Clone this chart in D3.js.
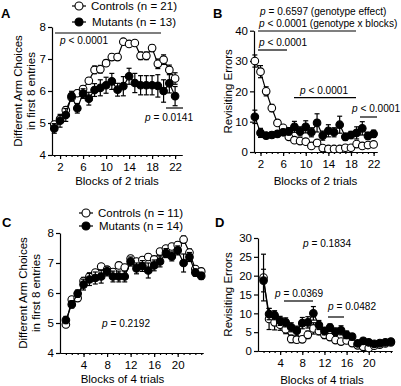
<!DOCTYPE html>
<html>
<head>
<meta charset="utf-8">
<script src="https://cdn.jsdelivr.net/npm/d3@7"></script>
<style>
body { margin: 0; background: #fff; }
svg { display: block; font-family: "Liberation Sans", Arial, sans-serif; }
</style>
</head>
<body>
<svg id="fig" width="401" height="386"></svg>
<script>
// blocks (x categories)
var blocks22 = [1, 2, 3, 4, 5, 6, 7, 8, 9, 10, 11, 12, 13, 14, 15, 16, 17, 18, 19, 20, 21, 22];
var blocks24 = [1, 2, 3, 4, 5, 6, 7, 8, 9, 10, 11, 12, 13, 14, 15, 16, 17, 18, 19, 20, 21, 22, 23, 24];

// tick labels
var xTicks2 = [2, 6, 10, 14, 18, 22];
var xTicks4 = [4, 8, 12, 16, 20];
var yTicksChoices = [4, 5, 6, 7, 8];
var yTicksB = [0, 10, 20, 30, 40];
var yTicksD = [0, 5, 10, 15, 20, 25, 30];

// panel A: arm choices, blocks of 2 trials
var aControls = [4.95, 5.12, 5.4, 5.8, 5.93, 6.06, 6.32, 6.66, 6.68, 6.87, 7.06, 7.06, 7.54, 7.47, 7.5, 7.1, 7.1, 7.34, 6.85, 6.98, 6.66, 6.39];
var aControlsErr = [0.1, 0.1, 0.1, 0.1, 0.1, 0.1, 0.1, 0.12, 0.12, 0.1, 0.1, 0.1, 0.08, 0.08, 0.08, 0.12, 0.12, 0.1, 0.15, 0.15, 0.15, 0.18];
var aMutants = [4.83, 5.07, 5.25, 5.84, 5.46, 5.92, 5.76, 6.03, 6.1, 6.18, 6.3, 6.04, 6.15, 6.46, 6.25, 6.18, 6.18, 6.18, 6.16, 6.0, 6.24, 5.84];
var aMutantsErr = [0.15, 0.2, 0.2, 0.15, 0.15, 0.15, 0.2, 0.2, 0.25, 0.25, 0.25, 0.2, 0.3, 0.25, 0.3, 0.3, 0.3, 0.3, 0.35, 0.35, 0.3, 0.3];

// panel B: revisiting errors, blocks of 2 trials
var bControls = [30, 26.5, 20, 14.5, 9.6, 8.0, 5.0, 3.9, 3.6, 3.4, 2.0, 3.0, 1.3, 1.0, 1.0, 1.0, 1.4, 1.4, 2.6, 2.0, 2.3, 2.5];
var bControlsErr = [2.0, 2.0, 1.5, 1.2, 0.8, 0.6, 0.5, 0.4, 0.4, 0.4, 0.3, 0.4, 0.3, 0.3, 0.3, 0.3, 0.3, 0.3, 0.5, 0.4, 0.4, 0.4];
var bMutants = [11.6, 6.3, 5.4, 5.6, 6.0, 6.5, 6.8, 8.3, 6.8, 8.3, 6.5, 9.6, 5.4, 7.0, 6.5, 9.0, 5.0, 5.6, 6.3, 7.8, 5.3, 6.0];
var bMutantsErr = [2.2, 1.5, 1.0, 1.0, 1.0, 1.0, 1.2, 1.8, 1.5, 2.0, 1.5, 3.0, 1.5, 2.0, 1.5, 2.8, 1.2, 1.2, 2.0, 2.2, 1.2, 1.2];

// panel C: arm choices, blocks of 4 trials
var cControls = [4.95, 5.78, 5.83, 6.4, 6.55, 6.68, 6.88, 6.78, 6.7, 6.92, 6.85, 7.15, 7.05, 7.1, 7.2, 7.12, 7.38, 7.48, 7.55, 7.6, 7.78, 7.35, 6.8, 6.72];
var cControlsErr = [0.1, 0.1, 0.1, 0.12, 0.12, 0.1, 0.1, 0.1, 0.1, 0.1, 0.1, 0.1, 0.1, 0.1, 0.1, 0.1, 0.1, 0.1, 0.1, 0.1, 0.12, 0.12, 0.1, 0.1];
var cMutants = [5.1, 5.62, 5.98, 6.28, 6.45, 6.5, 6.55, 6.72, 6.55, 6.55, 6.55, 7.05, 6.82, 6.9, 6.75, 6.92, 7.05, 7.33, 7.22, 7.42, 7.0, 7.2, 6.68, 6.57];
var cMutantsErr = [0.12, 0.12, 0.12, 0.18, 0.2, 0.2, 0.22, 0.15, 0.18, 0.18, 0.18, 0.15, 0.18, 0.18, 0.25, 0.18, 0.18, 0.15, 0.15, 0.15, 0.3, 0.15, 0.12, 0.12];

// panel D: revisiting errors, blocks of 4 trials
var dControls = [19.5, 8.5, 7.6, 7.0, 5.8, 3.2, 3.0, 3.1, 4.3, 6.0, 5.3, 4.3, 3.7, 2.9, 2.5, 2.8, 2.1, 1.5, 1.1, 0.8, 1.4, 1.7, 2.0, 2.3];
var dControlsErr = [6.2, 2.8, 2.0, 1.5, 1.2, 1.0, 0.8, 0.8, 1.0, 1.5, 1.0, 1.0, 0.8, 0.7, 0.6, 0.6, 0.5, 0.4, 0.4, 0.4, 0.4, 0.4, 0.4, 0.4];
var dMutants = [18.7, 9.8, 9.5, 8.0, 7.6, 6.3, 5.4, 7.4, 7.6, 10.0, 6.9, 5.3, 6.2, 5.1, 5.5, 4.3, 3.8, 2.0, 2.7, 2.3, 1.9, 2.1, 2.3, 2.5];
var dMutantsErr = [3.0, 1.5, 1.2, 1.2, 1.2, 1.2, 1.2, 1.5, 1.5, 1.8, 1.2, 1.0, 1.0, 1.0, 1.2, 1.0, 0.8, 0.6, 0.6, 0.5, 0.5, 0.5, 0.5, 0.5];

var svg = d3.select('#fig');

function drawPanel(p) {
    var g = svg.append('g');
    var x = d3.scaleLinear().domain(p.xDomain).range(p.xRange);
    var y = d3.scaleLinear().domain(p.yDomain).range(p.yRange);

    // minor ticks every block, then labelled ticks
    g.append('g')
        .attr('transform', `translate(0,${p.yRange[0]})`)
        .call(d3.axisBottom(x).tickValues(p.blocks).tickSize(2).tickSizeOuter(0).tickFormat(''));
    g.append('g')
        .attr('transform', `translate(0,${p.yRange[0]})`)
        .call(d3.axisBottom(x).tickValues(p.xTicks).tickSize(4).tickPadding(4).tickSizeOuter(0)
            .tickFormat(d3.format('d')));
    g.append('g')
        .attr('transform', `translate(${p.xRange[0]},0)`)
        .call(d3.axisLeft(y).tickValues(p.yTicks).tickSize(4).tickPadding(2).tickSizeOuter(0)
            .tickFormat(d3.format('d')));
    g.selectAll('.domain, .tick line').attr('stroke', '#000').attr('stroke-width', 1.2);
    g.selectAll('.tick text').attr('font-size', 11.5).attr('fill', '#000')
        .attr('font-family', '"Liberation Sans", Arial, sans-serif');

    var series = [
        {v: p.controls, e: p.controlsErr, fill: '#fff'},
        {v: p.mutants, e: p.mutantsErr, fill: '#000'}
    ];
    series.forEach(function (s) {
        var pts = p.blocks.map(function (b, i) { return [b, s.v[i], s.e[i]]; });
        var eb = g.append('g').attr('stroke', '#000').attr('stroke-width', 1.2);
        eb.selectAll('line.v').data(pts).join('line')
            .attr('x1', function (d) { return x(d[0]); })
            .attr('x2', function (d) { return x(d[0]); })
            .attr('y1', function (d) { return y(d[1] - d[2]); })
            .attr('y2', function (d) { return y(d[1] + d[2]); });
        eb.selectAll('line.t').data(pts).join('line')
            .attr('x1', function (d) { return x(d[0]) - 2.5; })
            .attr('x2', function (d) { return x(d[0]) + 2.5; })
            .attr('y1', function (d) { return y(d[1] + d[2]); })
            .attr('y2', function (d) { return y(d[1] + d[2]); });
        eb.selectAll('line.b').data(pts).join('line')
            .attr('x1', function (d) { return x(d[0]) - 2.5; })
            .attr('x2', function (d) { return x(d[0]) + 2.5; })
            .attr('y1', function (d) { return y(d[1] - d[2]); })
            .attr('y2', function (d) { return y(d[1] - d[2]); });
        g.append('path').datum(pts)
            .attr('fill', 'none').attr('stroke', '#000').attr('stroke-width', 1.2)
            .attr('d', d3.line().x(function (d) { return x(d[0]); }).y(function (d) { return y(d[1]); }));
        g.selectAll(null).data(pts).join('circle')
            .attr('cx', function (d) { return x(d[0]); })
            .attr('cy', function (d) { return y(d[1]); })
            .attr('r', 3.8)
            .attr('fill', s.fill).attr('stroke', '#000').attr('stroke-width', 1.1);
    });

    // panel letter
    g.append('text').attr('x', p.letter[1]).attr('y', p.letter[2])
        .attr('font-size', 13).attr('font-weight', 'bold').text(p.letter[0]);

    // axis titles
    g.append('text')
        .attr('x', (p.xRange[0] + p.xRange[1]) / 2 + p.xTitleShift).attr('y', p.xTitleY)
        .attr('text-anchor', 'middle').attr('font-size', 11.5).text(p.xTitle);
    var cy = (p.yRange[0] + p.yRange[1]) / 2;
    p.yTitle.forEach(function (t, i) {
        g.append('text')
            .attr('transform', `translate(${p.yTitleX[i]},${cy}) rotate(-90)`)
            .attr('text-anchor', 'middle').attr('font-size', 11.5).text(t);
    });

    // significance bars and p values
    p.bars.forEach(function (b) {
        g.append('line').attr('x1', b[0]).attr('x2', b[1]).attr('y1', b[2]).attr('y2', b[2])
            .attr('stroke', '#000').attr('stroke-width', 1.2);
    });
    p.notes.forEach(function (n) {
        var t = g.append('text').attr('x', n[0]).attr('y', n[1]).attr('font-size', 10.1);
        t.append('tspan').attr('font-style', 'italic').text('p');
        t.append('tspan').text(n[2]);
    });

    // legend
    if (p.legend) {
        var lg = p.legend;
        [['Controls', '#fff'], ['Mutants', '#000']].forEach(function (it, i) {
            var ly = lg.y + i * lg.dy;
            g.append('line').attr('x1', lg.x - 7).attr('x2', lg.x + 7).attr('y1', ly).attr('y2', ly)
                .attr('stroke', '#000').attr('stroke-width', 1.2);
            g.append('circle').attr('cx', lg.x).attr('cy', ly).attr('r', 4)
                .attr('fill', it[1]).attr('stroke', '#000').attr('stroke-width', 1.1);
            g.append('text').attr('x', lg.x + 12 + i).attr('y', ly + 4).attr('font-size', 11.5)
                .text(it[0] + ' (n = ' + lg.n[i] + ')');
        });
    }
}

drawPanel({
    blocks: blocks22, xTicks: xTicks2, yTicks: yTicksChoices,
    xDomain: [0.6, 23.2], xRange: [52, 182], yDomain: [4, 8], yRange: [155, 27],
    controls: aControls, controlsErr: aControlsErr, mutants: aMutants, mutantsErr: aMutantsErr,
    letter: ['A', 1, 18], xTitle: 'Blocks of 2 trials', xTitleY: 185, xTitleShift: 0,
    yTitle: ['Different Arm Choices', 'in first 8 entries'], yTitleX: [22, 35],
    bars: [[55, 161, 33], [166, 183, 108]],
    notes: [[60, 44, ' < 0.0001'], [145, 121, ' = 0.0141']],
    legend: {x: 79, y: 6, dy: 16, n: [21, 13]}
});

drawPanel({
    blocks: blocks22, xTicks: xTicks2, yTicks: yTicksB,
    xDomain: [0.85, 22.6], xRange: [254, 377], yDomain: [0, 40], yRange: [152, 30.7],
    controls: bControls, controlsErr: bControlsErr, mutants: bMutants, mutantsErr: bMutantsErr,
    letter: ['B', 213, 18], xTitle: 'Blocks of 2 trials', xTitleY: 185, xTitleShift: 0,
    yTitle: ['Revisiting Errors'], yTitleX: [232],
    bars: [[258, 356, 31], [258, 287, 50], [294, 356, 97.7], [360, 377, 117]],
    notes: [[260, 15, ' = 0.6597 (genotype effect)'], [259, 27, ' < 0.0001 (genotype x blocks)'],
        [259, 46, ' < 0.0001'], [300, 94, ' < 0.0001'], [352, 112, ' < 0.0001']]
});

drawPanel({
    blocks: blocks24, xTicks: xTicks4, yTicks: yTicksChoices,
    xDomain: [0, 24.3], xRange: [60, 203], yDomain: [4, 8], yRange: [353, 233],
    controls: cControls, controlsErr: cControlsErr, mutants: cMutants, mutantsErr: cMutantsErr,
    letter: ['C', 2, 227], xTitle: 'Blocks of 4 trials', xTitleY: 383, xTitleShift: -9,
    yTitle: ['Different Arm Choices', 'in first 8 entries'], yTitleX: [27, 40],
    bars: [],
    notes: [[102, 327, ' = 0.2192']],
    legend: {x: 86, y: 213, dy: 13, n: [11, 14]}
});

drawPanel({
    blocks: blocks24, xTicks: xTicks4, yTicks: yTicksD,
    xDomain: [0, 24.2], xRange: [258, 392], yDomain: [0, 30], yRange: [351, 238],
    controls: dControls, controlsErr: dControlsErr, mutants: dMutants, mutantsErr: dMutantsErr,
    letter: ['D', 215, 227], xTitle: 'Blocks of 4 trials', xTitleY: 384, xTitleShift: -3,
    yTitle: ['Revisiting Errors'], yTitleX: [232],
    bars: [[284, 313, 301], [328, 344, 317]],
    notes: [[303, 247, ' = 0.1834'], [275, 297, ' = 0.0369'], [328, 310, ' = 0.0482']]
});
</script>
</body>
</html>
